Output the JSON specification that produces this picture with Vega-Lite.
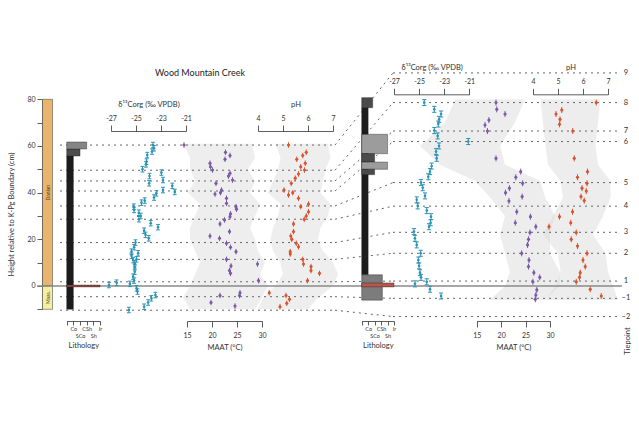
{
  "$schema": "https://vega.github.io/schema/vega-lite/v6.json",
  "width": 639,
  "height": 426,
  "padding": 0,
  "autosize": {"type": "none"},
  "background": "white",
  "config": {
    "font": "Lato",
    "view": {"stroke": null},
    "axis": {"labelFontSize": 7, "titleFontSize": 7.5, "titleFontWeight": "normal", "labelColor": "#333", "titleColor": "#333", "domainColor": "#333", "tickColor": "#333", "grid": false, "labelFlush": false, "labelOverlap": false, "tickSize": 6, "domainWidth": 0.8, "tickWidth": 0.8}
  },
  "datasets": {
    "stages": [{"stage": "Danian", "label": "Danian", "base": 0, "top": 80}, {"stage": "Maastrichtian", "label": "Maas.", "base": -10, "top": 0}],
    "ties": [
      {"tp": 9, "left": 60.4, "right": 91.3}, {"tp": 8, "left": 49.6, "right": 78.6}, {"tp": 7, "left": 45.0, "right": 66.4},
      {"tp": 6, "left": 40.7, "right": 61.9}, {"tp": 5, "left": 34.3, "right": 44.3}, {"tp": 4, "left": 28.6, "right": 34.2},
      {"tp": 3, "left": 18.6, "right": 23.0}, {"tp": 2, "left": 11.4, "right": 14.0}, {"tp": 1, "left": 1.8, "right": 2.1},
      {"tp": -1, "left": -4.6, "right": -5.3}, {"tp": -2, "left": -10.4, "right": -13.1}
    ],
    "lithL": [
      {"base": -10, "top": 55.7, "lith": "Co", "w": 1},
      {"base": 55.7, "top": 58.7, "lith": "SCo", "w": 2},
      {"base": 58.7, "top": 61.7, "lith": "CSh", "w": 3},
      {"base": -0.4, "top": 0.4, "lith": "Ir", "w": 5}
    ],
    "lithR": [
      {"base": 76.4, "top": 80.7, "lith": "SCo", "w": 1.7},
      {"base": 4.8, "top": 76.4, "lith": "Co", "w": 1},
      {"base": 56.7, "top": 65.0, "lith": "Sh", "w": 4},
      {"base": 53.1, "top": 56.7, "lith": "SCo", "w": 2},
      {"base": 50.0, "top": 53.1, "lith": "Sh", "w": 4},
      {"base": 47.7, "top": 50.0, "lith": "SCo", "w": 2},
      {"base": -6.1, "top": 4.8, "lith": "CSh", "w": 3.2},
      {"base": -0.4, "top": 1.3, "lith": "Ir", "w": 5}
    ],
    "d13cL": [{"h":60.4,"d13c":-23.64},{"h":59.0,"d13c":-23.56},{"h":57.6,"d13c":-23.72},{"h":56.1,"d13c":-24.1},{"h":53.3,"d13c":-24.16},{"h":52.1,"d13c":-24.2},{"h":50.0,"d13c":-24.48},{"h":48.6,"d13c":-22.97},{"h":47.1,"d13c":-23.92},{"h":45.4,"d13c":-22.84},{"h":44.0,"d13c":-23.95},{"h":42.9,"d13c":-22.1},{"h":41.1,"d13c":-22.84},{"h":40.3,"d13c":-21.9},{"h":39.7,"d13c":-23.37},{"h":37.9,"d13c":-23.56},{"h":36.6,"d13c":-24.3},{"h":35.7,"d13c":-24.56},{"h":34.0,"d13c":-25.17},{"h":32.6,"d13c":-25.15},{"h":31.4,"d13c":-24.77},{"h":30.0,"d13c":-24.62},{"h":28.6,"d13c":-24.77},{"h":26.9,"d13c":-23.82},{"h":25.2,"d13c":-23.24},{"h":23.7,"d13c":-24.35},{"h":21.9,"d13c":-24.24},{"h":20.4,"d13c":-23.98},{"h":18.6,"d13c":-25.04},{"h":16.6,"d13c":-25.15},{"h":14.7,"d13c":-25.36},{"h":14.0,"d13c":-24.83},{"h":12.9,"d13c":-25.36},{"h":11.4,"d13c":-24.96},{"h":11.1,"d13c":-25.23},{"h":9.7,"d13c":-25.1},{"h":8.0,"d13c":-25.1},{"h":6.1,"d13c":-25.1},{"h":4.0,"d13c":-25.23},{"h":2.3,"d13c":-25.15},{"h":0.9,"d13c":-25.49},{"h":1.4,"d13c":-26.55},{"h":0.4,"d13c":-27.16},{"h":-1.0,"d13c":-24.96},{"h":-2.4,"d13c":-24.88},{"h":-3.9,"d13c":-23.45},{"h":-5.3,"d13c":-23.77},{"h":-7.1,"d13c":-24.03},{"h":-8.9,"d13c":-24.35},{"h":-10.3,"d13c":-25.57}],
    "maatL": [{"h":60.4,"maat":14.4},{"h":57.3,"maat":22.7},{"h":55.9,"maat":23.6},{"h":54.3,"maat":22.6},{"h":52.6,"maat":19.6},{"h":51.1,"maat":19.7},{"h":49.7,"maat":20.1},{"h":48.3,"maat":23.6},{"h":47.1,"maat":23.3},{"h":45.4,"maat":24.1},{"h":44.0,"maat":20.8},{"h":41.1,"maat":21.9},{"h":40.0,"maat":21.7},{"h":39.4,"maat":20.6},{"h":37.6,"maat":22.9},{"h":35.4,"maat":22.9},{"h":34.0,"maat":24.8},{"h":32.9,"maat":24.9},{"h":30.9,"maat":23.7},{"h":29.7,"maat":23.6},{"h":28.3,"maat":22.5},{"h":26.6,"maat":21.6},{"h":23.3,"maat":23.5},{"h":21.4,"maat":19.6},{"h":20.4,"maat":21.5},{"h":18.3,"maat":22.9},{"h":16.6,"maat":23.7},{"h":14.7,"maat":24.8},{"h":11.4,"maat":22.9},{"h":9.4,"maat":29.1},{"h":8.6,"maat":23.8},{"h":6.6,"maat":23.5},{"h":5.4,"maat":23.7},{"h":2.3,"maat":29.3},{"h":-2.9,"maat":25.6},{"h":-4.1,"maat":25.5},{"h":-4.1,"maat":21.6},{"h":-7.1,"maat":19.8},{"h":-8.6,"maat":24.6}],
    "phL": [{"h":60.4,"ph":5.22},{"h":57.3,"ph":5.93},{"h":55.9,"ph":5.79},{"h":54.3,"ph":5.55},{"h":52.6,"ph":5.89},{"h":51.1,"ph":5.71},{"h":49.7,"ph":5.86},{"h":48.0,"ph":5.62},{"h":46.2,"ph":5.49},{"h":44.0,"ph":5.33},{"h":41.1,"ph":5.04},{"h":40.0,"ph":5.39},{"h":39.0,"ph":5.22},{"h":37.6,"ph":5.62},{"h":35.1,"ph":6.02},{"h":34.0,"ph":5.71},{"h":31.8,"ph":6.02},{"h":30.0,"ph":5.93},{"h":28.6,"ph":5.85},{"h":26.6,"ph":5.42},{"h":23.3,"ph":5.42},{"h":21.4,"ph":5.31},{"h":20.0,"ph":5.35},{"h":18.3,"ph":5.53},{"h":16.8,"ph":5.62},{"h":14.7,"ph":5.29},{"h":13.7,"ph":5.29},{"h":11.4,"ph":5.79},{"h":9.4,"ph":5.82},{"h":8.3,"ph":6.12},{"h":6.6,"ph":6.12},{"h":5.4,"ph":6.46},{"h":2.3,"ph":5.98},{"h":-2.9,"ph":4.45},{"h":-4.1,"ph":5.12},{"h":-5.7,"ph":5.26},{"h":-7.4,"ph":5.15},{"h":-8.9,"ph":4.88}],
    "d13cR": [{"h":78.6,"d13c":-24.59},{"h":75.7,"d13c":-23.79},{"h":73.7,"d13c":-23.25},{"h":71.4,"d13c":-23.41},{"h":69.4,"d13c":-23.47},{"h":66.6,"d13c":-23.79},{"h":64.3,"d13c":-23.52},{"h":61.9,"d13c":-21.08},{"h":60.0,"d13c":-23.41},{"h":57.6,"d13c":-23.65},{"h":54.7,"d13c":-23.6},{"h":51.4,"d13c":-24.0},{"h":49.0,"d13c":-24.13},{"h":46.8,"d13c":-24.27},{"h":44.3,"d13c":-24.85},{"h":42.1,"d13c":-24.71},{"h":38.6,"d13c":-24.53},{"h":36.9,"d13c":-25.19},{"h":34.3,"d13c":-25.11},{"h":32.3,"d13c":-24.39},{"h":29.7,"d13c":-24.05},{"h":27.1,"d13c":-24.08},{"h":25.4,"d13c":-24.21},{"h":23.3,"d13c":-25.41},{"h":20.4,"d13c":-25.33},{"h":17.6,"d13c":-25.19},{"h":14.0,"d13c":-24.87},{"h":11.1,"d13c":-25.06},{"h":8.6,"d13c":-25.0},{"h":5.7,"d13c":-24.93},{"h":3.7,"d13c":-24.85},{"h":0.9,"d13c":-25.33},{"h":1.8,"d13c":-24.39},{"h":-1.4,"d13c":-24.13},{"h":-4.3,"d13c":-23.25}],
    "maatR": [{"h":78.6,"maat":18.95},{"h":75.7,"maat":19.1},{"h":73.7,"maat":20.8},{"h":71.1,"maat":17.5},{"h":69.0,"maat":16.7},{"h":66.4,"maat":17.2},{"h":54.7,"maat":18.95},{"h":49.0,"maat":24.0},{"h":46.6,"maat":23.0},{"h":44.0,"maat":24.4},{"h":41.9,"maat":21.7},{"h":40.0,"maat":20.9},{"h":38.3,"maat":24.3},{"h":36.4,"maat":21.6},{"h":31.8,"maat":23.2},{"h":29.7,"maat":26.0},{"h":27.1,"maat":22.9},{"h":25.4,"maat":27.1},{"h":22.9,"maat":25.9},{"h":20.0,"maat":25.6},{"h":17.6,"maat":25.4},{"h":14.0,"maat":24.2},{"h":11.1,"maat":25.7},{"h":8.3,"maat":25.6},{"h":5.7,"maat":26.7},{"h":3.7,"maat":27.9},{"h":1.8,"maat":26.5},{"h":-1.7,"maat":27.3},{"h":-3.9,"maat":27.1},{"h":-5.7,"maat":27.0}],
    "phR": [{"h":78.6,"ph":6.53},{"h":75.4,"ph":5.15},{"h":73.7,"ph":4.92},{"h":71.4,"ph":5.08},{"h":69.3,"ph":5.06},{"h":66.4,"ph":5.59},{"h":54.7,"ph":5.65},{"h":49.0,"ph":6.18},{"h":46.6,"ph":5.78},{"h":44.0,"ph":6.16},{"h":41.9,"ph":5.96},{"h":40.7,"ph":6.13},{"h":38.3,"ph":5.92},{"h":36.6,"ph":6.05},{"h":31.8,"ph":5.58},{"h":29.7,"ph":5.06},{"h":27.1,"ph":5.51},{"h":25.4,"ph":4.64},{"h":22.9,"ph":5.73},{"h":20.0,"ph":5.53},{"h":17.1,"ph":5.78},{"h":14.0,"ph":6.16},{"h":11.1,"ph":6.0},{"h":8.3,"ph":6.09},{"h":5.7,"ph":5.89},{"h":3.7,"ph":5.86},{"h":1.8,"ph":5.73},{"h":-1.4,"ph":6.29},{"h":-4.3,"ph":6.73}],
    "bandMaatL": [{"h":61,"lo":14.2,"hi":28.0},{"h":55,"lo":15.6,"hi":28.6},{"h":50,"lo":15.6,"hi":27.2},{"h":45,"lo":16.6,"hi":28.6},{"h":40,"lo":15.2,"hi":27.6},{"h":35,"lo":17.6,"hi":29.6},{"h":30,"lo":16.6,"hi":28.6},{"h":25,"lo":15.6,"hi":27.6},{"h":20,"lo":15.6,"hi":28.6},{"h":15,"lo":16.6,"hi":29.2},{"h":10,"lo":17.6,"hi":30.6},{"h":5,"lo":16.6,"hi":29.6},{"h":0,"lo":15.6,"hi":31.2},{"h":-5,"lo":14.2,"hi":30.0},{"h":-10,"lo":15.6,"hi":28.6}],
    "bandPhL": [{"h":61,"lo":4.7,"hi":6.8},{"h":55,"lo":4.9,"hi":6.9},{"h":50,"lo":4.8,"hi":6.7},{"h":45,"lo":4.6,"hi":6.6},{"h":40,"lo":4.4,"hi":6.5},{"h":35,"lo":4.9,"hi":6.9},{"h":30,"lo":4.8,"hi":6.8},{"h":25,"lo":4.6,"hi":6.5},{"h":20,"lo":4.5,"hi":6.4},{"h":15,"lo":4.6,"hi":6.6},{"h":10,"lo":4.9,"hi":7.0},{"h":5,"lo":5.0,"hi":7.2},{"h":0,"lo":4.7,"hi":7.0},{"h":-5,"lo":4.2,"hi":6.4},{"h":-10,"lo":4.0,"hi":6.0}],
    "bandMaatR": [{"h":80,"lo":10.6,"hi":24.9},{"h":70,"lo":8.5,"hi":22.8},{"h":60,"lo":3.4,"hi":19.8},{"h":52,"lo":7.5,"hi":20.8},{"h":45,"lo":14.7,"hi":28.0},{"h":38,"lo":17.7,"hi":29.0},{"h":30,"lo":20.8,"hi":31.0},{"h":22,"lo":19.8,"hi":30.0},{"h":14,"lo":20.8,"hi":30.0},{"h":6,"lo":21.8,"hi":32.0},{"h":0,"lo":20.8,"hi":32.0},{"h":-6,"lo":17.7,"hi":29.0}],
    "bandPhR": [{"h":80,"lo":4.3,"hi":6.7},{"h":70,"lo":4.4,"hi":6.6},{"h":60,"lo":4.5,"hi":6.5},{"h":52,"lo":4.6,"hi":6.6},{"h":45,"lo":5.1,"hi":7.1},{"h":38,"lo":5.2,"hi":7.1},{"h":30,"lo":4.8,"hi":6.8},{"h":22,"lo":4.4,"hi":6.4},{"h":14,"lo":5.0,"hi":6.9},{"h":6,"lo":5.1,"hi":7.0},{"h":0,"lo":4.9,"hi":7.2},{"h":-6,"lo":4.5,"hi":7.4}]
  },
  "resolve": {"scale": {"x": "independent", "fill": "independent", "color": "independent"}, "axis": {"x": "independent"}},
  "layer": [
    {
      "data": {"name": "stages"},
      "layer": [
        {
          "mark": {"type": "rect", "stroke": "#555", "strokeWidth": 0.6},
          "encoding": {
            "x": {"datum": 0, "type": "quantitative", "scale": {"domain": [0, 1], "range": [42.5, 52.5], "nice": false, "zero": false}, "axis": null},
            "x2": {"datum": 1},
            "y": {"field": "base", "type": "quantitative",
              "scale": {"domain": [-10, 80], "range": [309.3, 99.3], "nice": false, "zero": false},
              "axis": {"orient": "left", "offset": -42, "values": [-10, 0, 10, 20, 30, 40, 50, 60, 70, 80], "labelExpr": "datum.value % 20 === 0 ? replace(datum.label, '−', '-') : ''", "tickSize": 5, "labelPadding": 2, "title": "Height relative to K-Pg Boundary (cm)", "titlePadding": 11, "titleY": 214, "titleColor": "#333", "labelColor": "#333"}},
            "y2": {"field": "top"},
            "fill": {"field": "stage", "type": "nominal", "scale": {"domain": ["Danian", "Maastrichtian"], "range": ["#e9b46c", "#f4f0a3"]}, "legend": null}
          }
        },
        {
          "transform": [{"calculate": "(datum.base + datum.top) / 2", "as": "mid"}],
          "mark": {"type": "text", "angle": 270, "fontSize": 5, "color": "#5a4020"},
          "encoding": {
            "x": {"datum": 0.5, "type": "quantitative"},
            "y": {"field": "mid", "type": "quantitative"},
            "text": {"field": "label"}
          }
        }
      ]
    },
    {
      "data": {"name": "bandMaatL"},
      "mark": {"type": "area", "orient": "horizontal", "color": "#e2e2e2", "opacity": 0.6},
      "encoding": {
        "x": {"field": "lo", "type": "quantitative", "scale": {"domain": [15, 30], "range": [187, 262], "nice": false, "zero": false}, "axis": null},
        "x2": {"field": "hi"},
        "y": {"field": "h", "type": "quantitative"}
      }
    },
    {
      "data": {"name": "bandPhL"},
      "mark": {"type": "area", "orient": "horizontal", "color": "#e2e2e2", "opacity": 0.6},
      "encoding": {
        "x": {"field": "lo", "type": "quantitative", "scale": {"domain": [4, 7], "range": [258, 333], "nice": false, "zero": false}, "axis": null},
        "x2": {"field": "hi"},
        "y": {"field": "h", "type": "quantitative"}
      }
    },
    {
      "data": {"name": "bandMaatR"},
      "mark": {"type": "area", "orient": "horizontal", "color": "#dcdcdc", "opacity": 0.5},
      "encoding": {
        "x": {"field": "lo", "type": "quantitative", "scale": {"domain": [15, 30], "range": [476.7, 550], "nice": false, "zero": false}, "axis": null},
        "x2": {"field": "hi"},
        "y": {"field": "h", "type": "quantitative"}
      }
    },
    {
      "data": {"name": "bandPhR"},
      "mark": {"type": "area", "orient": "horizontal", "color": "#dcdcdc", "opacity": 0.5},
      "encoding": {
        "x": {"field": "lo", "type": "quantitative", "scale": {"domain": [4, 7], "range": [533, 608], "nice": false, "zero": false}, "axis": null},
        "x2": {"field": "hi"},
        "y": {"field": "h", "type": "quantitative"}
      }
    },
    {
      "data": {"name": "ties"},
      "mark": {"type": "rule", "strokeDash": [2, 4], "color": "#666", "strokeWidth": 1},
      "encoding": {
        "x": {"datum": 0, "type": "quantitative", "scale": {"domain": [0, 1], "range": [60, 335], "nice": false, "zero": false}, "axis": null},
        "x2": {"datum": 1},
        "y": {"field": "left", "type": "quantitative"}
      }
    },
    {
      "data": {"name": "ties"},
      "transform": [{"fold": ["left", "right"], "as": ["side", "h"]}],
      "mark": {"type": "line", "strokeDash": [2, 4], "color": "#666", "strokeWidth": 1},
      "encoding": {
        "x": {"field": "side", "type": "nominal", "scale": {"type": "point", "domain": ["left", "right"], "range": [335, 393], "padding": 0}, "axis": null},
        "y": {"field": "h", "type": "quantitative"},
        "detail": {"field": "tp", "type": "nominal"}
      }
    },
    {
      "data": {"name": "ties"},
      "layer": [
        {
          "mark": {"type": "rule", "strokeDash": [2, 4], "color": "#666", "strokeWidth": 1},
          "encoding": {
            "x": {"datum": 0, "type": "quantitative", "scale": {"domain": [0, 1], "range": [393, 620], "nice": false, "zero": false}, "axis": null},
            "x2": {"datum": 1},
            "y": {"field": "right", "type": "quantitative"}
          }
        },
        {
          "mark": {"type": "text", "fontSize": 7.5, "color": "#333", "align": "center", "baseline": "middle"},
          "encoding": {
            "x": {"datum": 1.026, "type": "quantitative"},
            "y": {"field": "right", "type": "quantitative"},
            "text": {"field": "tp", "type": "quantitative"}
          }
        },
        {
          "data": {"values": [{"label": "Tiepoint"}]},
          "mark": {"type": "text", "fontSize": 7.5, "color": "#333", "angle": 270, "align": "center", "baseline": "middle"},
          "encoding": {
            "x": {"datum": 1.035, "type": "quantitative"},
            "y": {"datum": -23.6, "type": "quantitative"},
            "text": {"field": "label"}
          }
        }
      ]
    },
    {
      "data": {"values": [{"level": "K-Pg boundary", "h": 0, "title": "Wood Mountain Creek"}]},
      "layer": [
        {
          "mark": {"type": "rule", "color": "#8a8a8a", "strokeWidth": 1.5},
          "encoding": {
            "x": {"datum": 0, "type": "quantitative", "scale": {"domain": [0, 1], "range": [37, 622], "nice": false, "zero": false}, "axis": null},
            "x2": {"datum": 1},
            "y": {"field": "h", "type": "quantitative"}
          }
        },
        {
          "mark": {"type": "text", "fontSize": 9, "color": "#222", "align": "center", "baseline": "middle"},
          "encoding": {
            "x": {"datum": 0.2786, "type": "quantitative"},
            "y": {"datum": 91.3, "type": "quantitative"},
            "text": {"field": "title"}
          }
        }
      ]
    },
    {
      "data": {"name": "lithL"},
      "mark": {"type": "rect", "stroke": "#222", "strokeWidth": 0.4},
      "encoding": {
        "x": {"field": "w", "type": "quantitative", "scale": {"domain": [0, 5], "range": [66.7, 100], "nice": false, "zero": false},
          "axis": {"orient": "bottom", "offset": -105, "values": [0, 1, 2, 3, 4, 5], "labelExpr": "datum.value == 1 ? 'Co' : datum.value == 2 ? ['', 'SCo'] : datum.value == 3 ? 'CSh' : datum.value == 4 ? ['', 'Sh'] : datum.value == 5 ? 'Ir' : ''", "tickSize": 4, "labelPadding": 1, "labelFontSize": 5.5, "labelLineHeight": 7, "title": "Lithology", "titlePadding": 3, "titleColor": "#333"}},
        "x2": {"datum": 0},
        "y": {"field": "base", "type": "quantitative"},
        "y2": {"field": "top"},
        "fill": {"field": "lith", "type": "nominal", "scale": {"domain": ["Co", "SCo", "CSh", "Sh", "Ir"], "range": ["#1c1c1c", "#4d4d4d", "#858585", "#a0a0a0", "#9c4a3e"]}, "legend": null}
      }
    },
    {
      "data": {"name": "lithR"},
      "mark": {"type": "rect", "stroke": "#222", "strokeWidth": 0.4},
      "encoding": {
        "x": {"field": "w", "type": "quantitative", "scale": {"domain": [0, 5], "range": [361.7, 394], "nice": false, "zero": false},
          "axis": {"orient": "bottom", "offset": -105, "values": [0, 1, 2, 3, 4, 5], "labelExpr": "datum.value == 1 ? 'Co' : datum.value == 2 ? ['', 'SCo'] : datum.value == 3 ? 'CSh' : datum.value == 4 ? ['', 'Sh'] : datum.value == 5 ? 'Ir' : ''", "tickSize": 4, "labelPadding": 1, "labelFontSize": 5.5, "labelLineHeight": 7, "title": "Lithology", "titlePadding": 3, "titleColor": "#333"}},
        "x2": {"datum": 0},
        "y": {"field": "base", "type": "quantitative"},
        "y2": {"field": "top"},
        "fill": {"field": "lith", "type": "nominal", "scale": {"domain": ["Co", "SCo", "CSh", "Sh", "Ir"], "range": ["#1c1c1c", "#4a4a4a", "#7c7c7c", "#9c9c9c", "#b5574a"]}, "legend": null}
      }
    },
    {
      "data": {"name": "d13cL"},
      "encoding": {
        "x": {"field": "d13c", "type": "quantitative", "scale": {"domain": [-27, -21], "range": [111, 186], "nice": false, "zero": false},
          "axis": {"orient": "top", "offset": -131, "values": [-27, -25, -23, -21], "labelExpr": "replace(datum.label, '−', '-')", "title": "δ¹³Corg (‰ VPDB)", "labelPadding": 4, "titlePadding": 6, "titleColor": "#333"}},
        "y": {"field": "h", "type": "quantitative"}
      },
      "layer": [
        {"mark": {"type": "point", "shape": "M-0.7,-1H0.7M0,-1V1M-0.7,1H0.7", "filled": false, "size": 30, "strokeWidth": 1, "color": "#2b93b3", "opacity": 1}},
        {"mark": {"type": "circle", "size": 7, "color": "#2b93b3", "opacity": 1}}
      ]
    },
    {
      "data": {"name": "maatL"},
      "encoding": {
        "x": {"field": "maat", "type": "quantitative", "scale": {"domain": [15, 30], "range": [187, 262], "nice": false, "zero": false},
          "axis": {"orient": "bottom", "offset": -105, "values": [15, 20, 25, 30], "title": "MAAT (°C)", "labelPadding": 4, "titlePadding": 5, "titleColor": "#333"}},
        "y": {"field": "h", "type": "quantitative"}
      },
      "layer": [
        {"mark": {"type": "point", "shape": "M0,-1V1", "filled": false, "size": 30, "strokeWidth": 1, "color": "#7a5aa8", "opacity": 1}},
        {"mark": {"type": "circle", "size": 10, "color": "#7a5aa8", "opacity": 1}}
      ]
    },
    {
      "data": {"name": "phL"},
      "encoding": {
        "x": {"field": "ph", "type": "quantitative", "scale": {"domain": [4, 7], "range": [258, 333], "nice": false, "zero": false},
          "axis": {"orient": "top", "offset": -131, "values": [4, 5, 6, 7], "title": "pH", "labelPadding": 4, "titlePadding": 6, "titleColor": "#333"}},
        "y": {"field": "h", "type": "quantitative"}
      },
      "layer": [
        {"mark": {"type": "point", "shape": "M0,-1V1", "filled": false, "size": 30, "strokeWidth": 1, "color": "#d8542e", "opacity": 1}},
        {"mark": {"type": "circle", "size": 10, "color": "#d8542e", "opacity": 1}}
      ]
    },
    {
      "data": {"name": "d13cR"},
      "encoding": {
        "x": {"field": "d13c", "type": "quantitative", "scale": {"domain": [-27, -21], "range": [394, 469.3], "nice": false, "zero": false},
          "axis": {"orient": "top", "offset": -94.3, "values": [-27, -25, -23, -21], "labelExpr": "replace(datum.label, '−', '-')", "title": "δ¹³Corg (‰ VPDB)", "labelPadding": 4, "titlePadding": 6, "titleColor": "#333"}},
        "y": {"field": "h", "type": "quantitative"}
      },
      "layer": [
        {"mark": {"type": "point", "shape": "M-0.7,-1H0.7M0,-1V1M-0.7,1H0.7", "filled": false, "size": 36, "strokeWidth": 1, "color": "#2b93b3", "opacity": 1}},
        {"mark": {"type": "circle", "size": 7, "color": "#2b93b3", "opacity": 1}}
      ]
    },
    {
      "data": {"name": "maatR"},
      "encoding": {
        "x": {"field": "maat", "type": "quantitative", "scale": {"domain": [15, 30], "range": [476.7, 550], "nice": false, "zero": false},
          "axis": {"orient": "bottom", "offset": -105, "values": [15, 20, 25, 30], "title": "MAAT (°C)", "labelPadding": 4, "titlePadding": 5, "titleColor": "#333"}},
        "y": {"field": "h", "type": "quantitative"}
      },
      "layer": [
        {"mark": {"type": "point", "shape": "M0,-1V1", "filled": false, "size": 36, "strokeWidth": 1, "color": "#7a5aa8", "opacity": 1}},
        {"mark": {"type": "circle", "size": 10, "color": "#7a5aa8", "opacity": 1}}
      ]
    },
    {
      "data": {"name": "phR"},
      "encoding": {
        "x": {"field": "ph", "type": "quantitative", "scale": {"domain": [4, 7], "range": [533, 608], "nice": false, "zero": false},
          "axis": {"orient": "top", "offset": -94.3, "values": [4, 5, 6, 7], "title": "pH", "labelPadding": 4, "titlePadding": 6, "titleColor": "#333"}},
        "y": {"field": "h", "type": "quantitative"}
      },
      "layer": [
        {"mark": {"type": "point", "shape": "M0,-1V1", "filled": false, "size": 36, "strokeWidth": 1, "color": "#d8542e", "opacity": 1}},
        {"mark": {"type": "circle", "size": 10, "color": "#d8542e", "opacity": 1}}
      ]
    }
  ]
}
